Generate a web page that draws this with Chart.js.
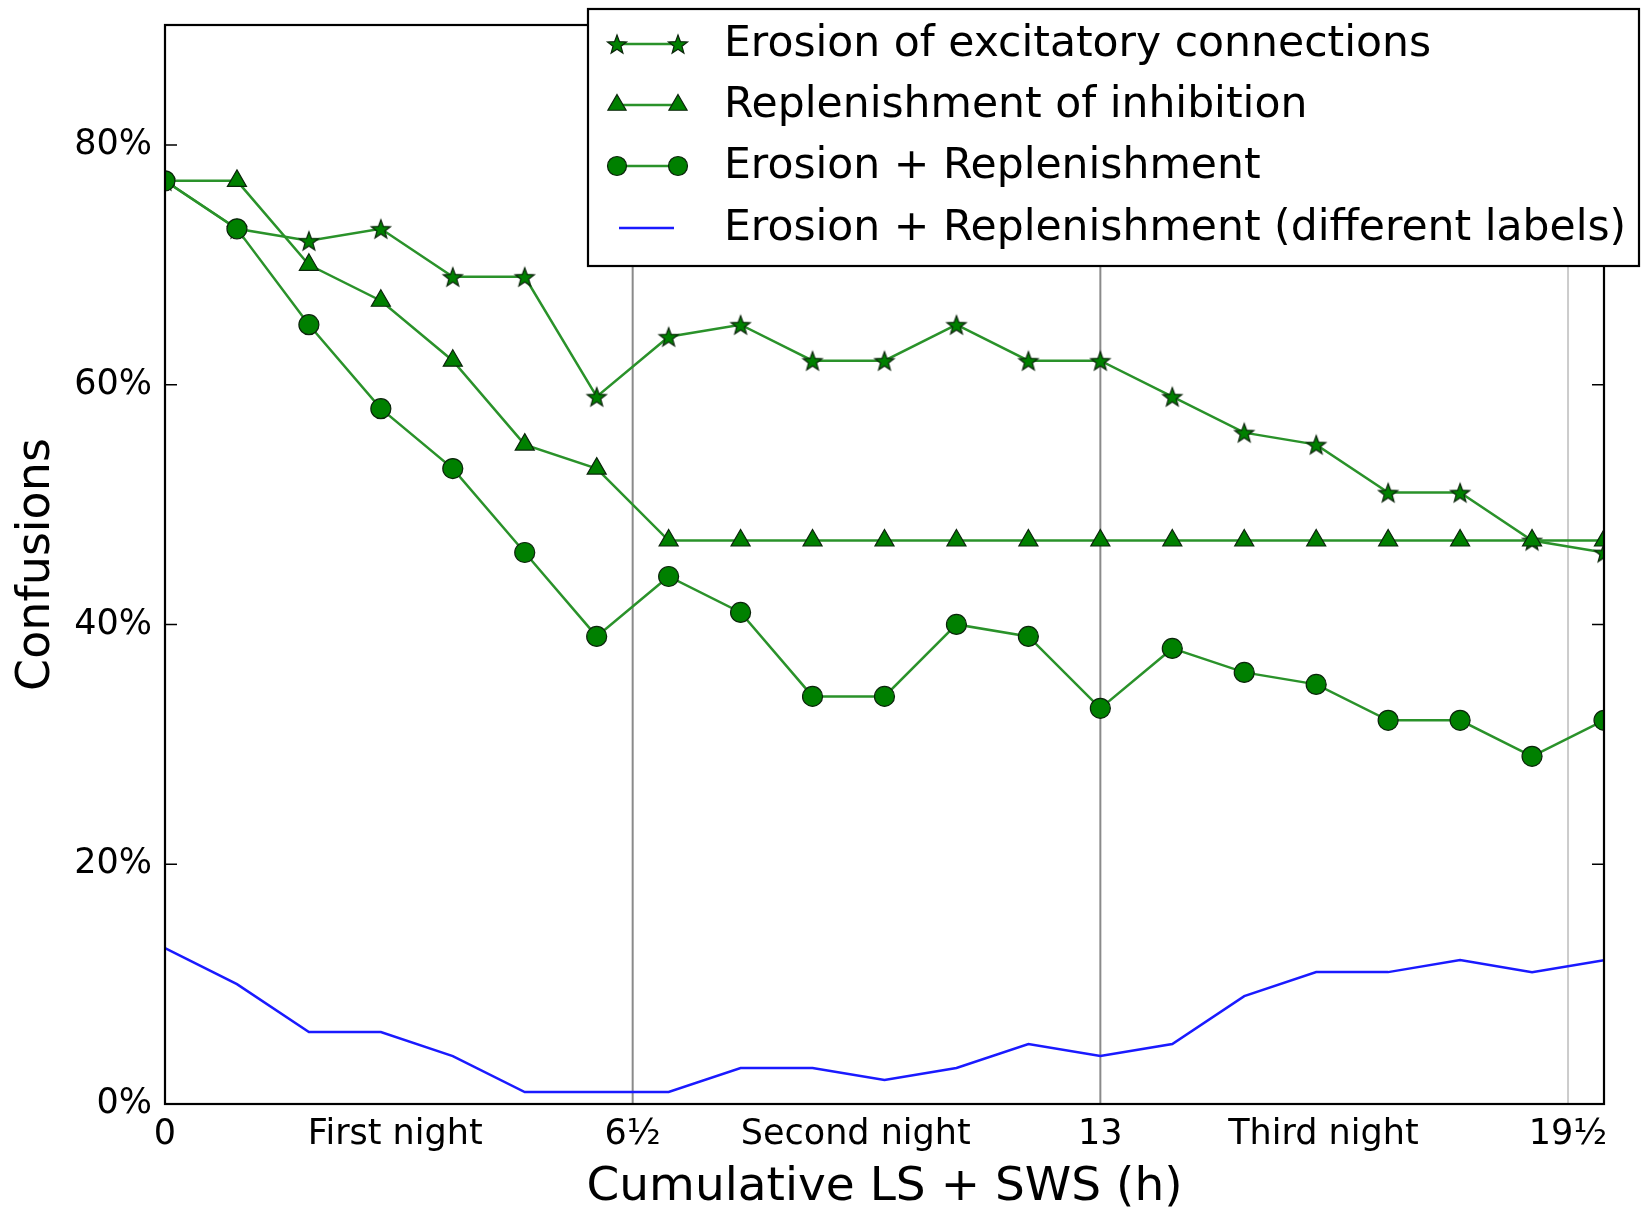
<!DOCTYPE html>
<html>
<head>
<meta charset="utf-8">
<script src="https://cdn.jsdelivr.net/npm/chart.js@4.4.1/dist/chart.umd.min.js"></script>
<style>
  html, body { margin: 0; padding: 0; background: #fff; }
  #wrap { width: 1641px; height: 1212px; }
</style>
</head>
<body>
<div id="wrap"><canvas id="chart" width="1641" height="1212"></canvas></div>
<script>
// Confusion rate vs. cumulative light + slow-wave sleep, per model variant
const hours = [0, 1, 2, 3, 4, 5, 6, 7, 8, 9, 10, 11, 12, 13, 14, 15, 16, 17, 18, 19, 20];
const erosion = [77, 73, 72, 73, 69, 69, 59, 64, 65, 62, 62, 65, 62, 62, 59, 56, 55, 51, 51, 47, 46];
const replenish = [77, 77, 70, 67, 62, 55, 53, 47, 47, 47, 47, 47, 47, 47, 47, 47, 47, 47, 47, 47, 47];
const combined = [77, 73, 65, 58, 53, 46, 39, 44, 41, 34, 34, 40, 39, 33, 38, 36, 35, 32, 32, 29, 32];
const combinedRelabel = [13, 10, 6, 6, 4, 1, 1, 1, 3, 3, 2, 3, 5, 4, 5, 9, 11, 11, 12, 11, 12];

const tickHours = [0, 3.2, 6.5, 9.6, 13, 16.1, 19.5];
const tickLabels = ['0', 'First night', '6½', 'Second night', '13', 'Third night', '19½'];
const nightEnds = [6.5, 13, 19.5];
const nightColors = ['#8a8a8a', '#8a8a8a', '#cccccc'];
const yTicks = [0, 20, 40, 60, 80];

const FONT = "'DejaVu Sans', 'Liberation Sans', sans-serif";
const GREEN = '#008000';
const LINE_GREEN = '#2a922a';

// filled five-pointed star, Chart.js only has an outline asterisk
function makeStar(r) {
  const c = document.createElement('canvas');
  const size = Math.ceil(r * 2 + 4);
  c.width = size; c.height = size;
  const g = c.getContext('2d');
  const cx = size / 2, cy = size / 2 + 1;
  g.beginPath();
  for (let i = 0; i < 10; i++) {
    const rad = i % 2 === 0 ? r : r * 0.42;
    const a = -Math.PI / 2 + i * Math.PI / 5;
    const px = cx + rad * Math.cos(a), py = cy + rad * Math.sin(a);
    if (i === 0) g.moveTo(px, py); else g.lineTo(px, py);
  }
  g.closePath();
  g.fillStyle = GREEN;
  g.fill();
  g.lineWidth = 1.2;
  g.strokeStyle = '#0b240b';
  g.stroke();
  return c;
}
const starImg = makeStar(10);

const toPoints = arr => arr.map((v, i) => ({ x: hours[i], y: v }));

const greenStyle = {
  borderColor: LINE_GREEN,
  backgroundColor: GREEN,
  borderWidth: 2.5,
  pointBorderColor: '#0b240b',
  pointBorderWidth: 1.2,
  pointBackgroundColor: GREEN,
  tension: 0
};

const datasets = [
  Object.assign({ label: 'Erosion of excitatory connections', data: toPoints(erosion),
    pointStyle: starImg, pointRadius: 10, order: 4 }, greenStyle),
  Object.assign({ label: 'Replenishment of inhibition', data: toPoints(replenish),
    pointStyle: 'triangle', pointRadius: 11, order: 3 }, greenStyle),
  Object.assign({ label: 'Erosion + Replenishment', data: toPoints(combined),
    pointStyle: 'circle', pointRadius: 10, order: 2 }, greenStyle),
  { label: 'Erosion + Replenishment (different labels)', data: toPoints(combinedRelabel),
    borderColor: '#1a1aff', backgroundColor: '#1a1aff', borderWidth: 2.5,
    pointRadius: 0, pointStyle: false, tension: 0, order: 1 }
];

const framePlugin = {
  id: 'frame',
  beforeDatasetsDraw(chart) {
    const { ctx, chartArea: a, scales } = chart;
    ctx.save();
    ctx.lineWidth = 2;
    nightEnds.forEach((h, i) => {
      const x = scales.x.getPixelForValue(h);
      ctx.strokeStyle = nightColors[i];
      ctx.beginPath();
      ctx.moveTo(x, a.top);
      ctx.lineTo(x, a.bottom);
      ctx.stroke();
    });
    ctx.restore();
  },
  afterDraw(chart) {
    const { ctx, chartArea: a, scales } = chart;
    ctx.save();
    // inward y ticks on both sides
    ctx.strokeStyle = '#000';
    ctx.lineWidth = 1.5;
    yTicks.forEach(v => {
      const y = scales.y.getPixelForValue(v);
      ctx.beginPath();
      ctx.moveTo(a.left, y); ctx.lineTo(a.left + 12, y);
      ctx.moveTo(a.right, y); ctx.lineTo(a.right - 12, y);
      ctx.stroke();
    });
    // axes frame
    ctx.lineWidth = 2.2;
    ctx.strokeRect(a.left, a.top, a.right - a.left, a.bottom - a.top);

    // legend box
    const box = { x: 588, y: 9, w: 1051, h: 257 };
    ctx.fillStyle = '#fff';
    ctx.fillRect(box.x, box.y, box.w, box.h);
    ctx.lineWidth = 2.2;
    ctx.strokeStyle = '#000';
    ctx.strokeRect(box.x, box.y, box.w, box.h);

    const rows = [44, 105, 166, 228];
    const x0 = 617, x1 = 678;
    chart.data.datasets.forEach((ds, i) => {
      const y = rows[i];
      ctx.strokeStyle = ds.borderColor;
      ctx.lineWidth = ds.borderWidth;
      ctx.beginPath();
      ctx.moveTo(i === 3 ? x0 + 2 : x0, y);
      ctx.lineTo(i === 3 ? x1 - 4 : x1, y);
      ctx.stroke();
      if (ds.pointRadius > 0) {
        ctx.fillStyle = ds.pointBackgroundColor;
        ctx.strokeStyle = ds.pointBorderColor;
        ctx.lineWidth = ds.pointBorderWidth;
        [x0, x1].forEach(px => {
          Chart.helpers.drawPoint(ctx, {
            pointStyle: ds.pointStyle, radius: ds.pointRadius - 0.5, rotation: 0,
            borderWidth: ds.pointBorderWidth
          }, px, y);
        });
      }
      ctx.fillStyle = '#000';
      ctx.font = '42.5px ' + FONT;
      ctx.textBaseline = 'middle';
      ctx.textAlign = 'left';
      ctx.fillText(ds.label, 724, y + 1);
    });
    ctx.restore();
  }
};

new Chart(document.getElementById('chart'), {
  type: 'line',
  data: { datasets },
  options: {
    responsive: false,
    animation: false,
    events: [],
    layout: { padding: { top: 25, right: 37, left: 0, bottom: 0 } },
    plugins: { legend: { display: false }, tooltip: { enabled: false } },
    scales: {
      x: {
        type: 'linear',
        min: 0,
        max: 20,
        afterBuildTicks: axis => { axis.ticks = tickHours.map(v => ({ value: v })); },
        afterFit: s => { s.height = 108; s.paddingLeft = 0; s.paddingRight = 0; },
        grid: { display: false, drawTicks: false },
        border: { display: false },
        ticks: {
          autoSkip: false,
          maxRotation: 0,
          padding: 10,
          color: '#000',
          font: { family: FONT, size: 35 },
          callback: (v, i) => tickLabels[i]
        },
        title: {
          display: true,
          text: 'Cumulative LS + SWS (h)',
          color: '#000',
          font: { family: FONT, size: 47, lineHeight: 1 },
          padding: { top: 0, bottom: 1 }
        }
      },
      y: {
        min: 0,
        max: 90,
        afterBuildTicks: axis => { axis.ticks = yTicks.map(v => ({ value: v })); },
        afterFit: s => { s.width = 165; s.paddingTop = 0; s.paddingBottom = 0; },
        grid: { display: false, drawTicks: false },
        border: { display: false },
        ticks: {
          padding: 13,
          color: '#000',
          font: { family: FONT, size: 35 },
          callback: v => v + '%'
        },
        title: {
          display: true,
          text: 'Confusions',
          color: '#000',
          font: { family: FONT, size: 46, lineHeight: 1 },
          padding: { top: 14, bottom: 0 }
        }
      }
    }
  },
  plugins: [framePlugin]
});
</script>
</body>
</html>
